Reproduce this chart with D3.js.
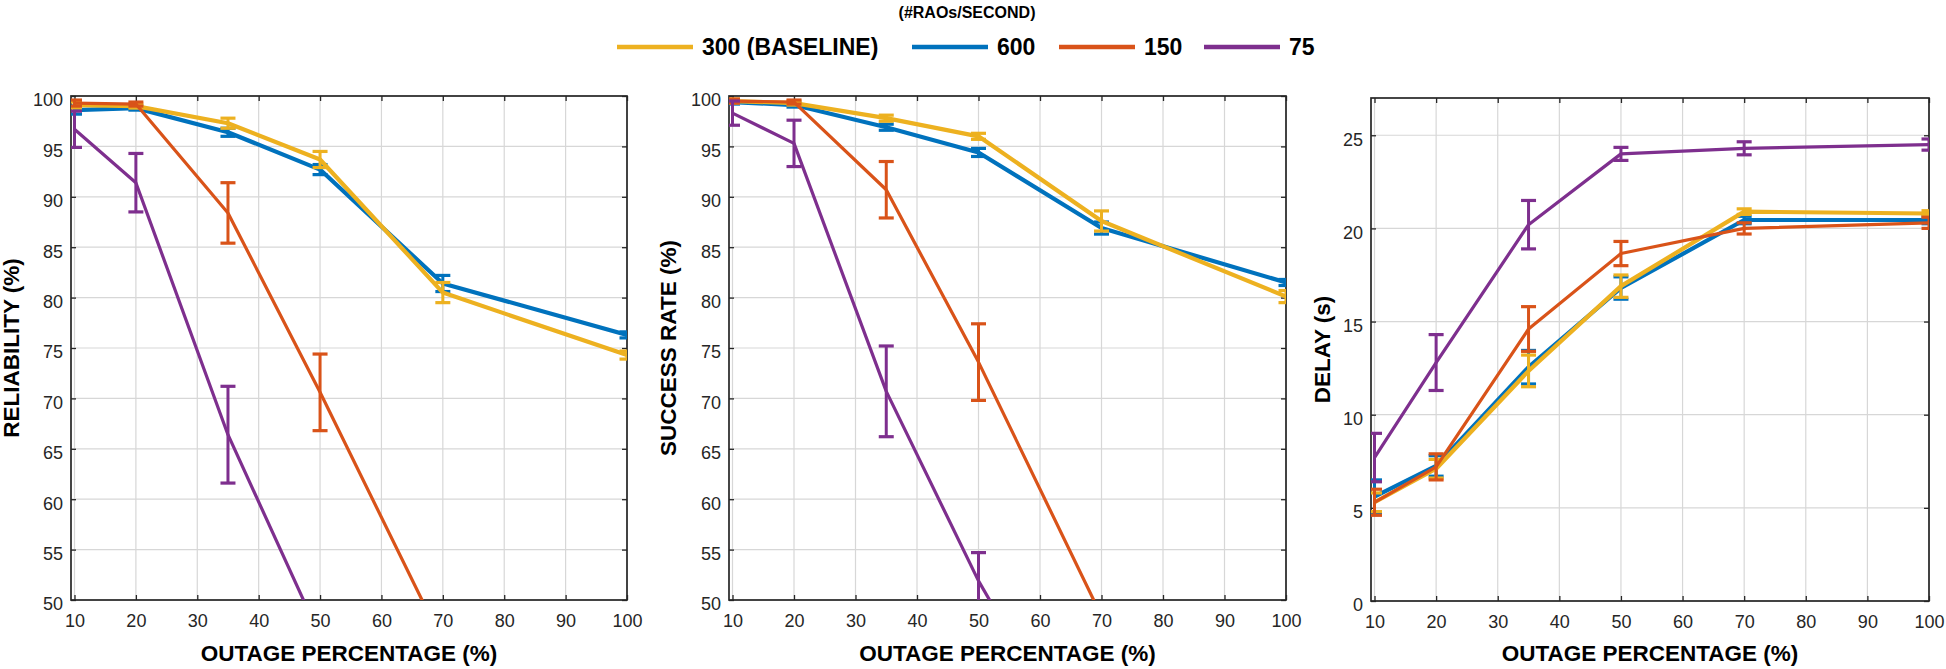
<!DOCTYPE html>
<html><head><meta charset="utf-8">
<script src="https://cdn.jsdelivr.net/npm/d3@7"></script>
<style>body{margin:0;background:#fff;} svg{display:block;font-family:"Liberation Sans",Arial,sans-serif;}</style>
</head><body><svg id="c" width="1946" height="669"></svg>
<script>
// ---------- data ----------
const outage = [10, 20, 35, 50, 70, 100];
const seriesNames = ["300 (BASELINE)", "600", "150", "75"];
const legendTitle = "(#RAOs/SECOND)";
const xTicks = [10, 20, 30, 40, 50, 60, 70, 80, 90, 100];
const pctTicks = [50, 55, 60, 65, 70, 75, 80, 85, 90, 95, 100];
const delayTicks = [0, 5, 10, 15, 20, 25];
const xTitle = "OUTAGE PERCENTAGE (%)";
const yTitles = ["RELIABILITY (%)", "SUCCESS RATE (%)", "DELAY (s)"];

// Reliability (%)
const rel300 = [99.1, 99.0, 97.3, 93.7, 80.5, 74.3];
const rel300Err = [0.3, 0.2, 0.5, 0.8, 1.0, 0.4];
const rel600 = [98.6, 98.8, 96.4, 92.7, 81.4, 76.3];
const rel600Err = [0.4, 0.2, 0.4, 0.5, 0.8, 0.3];
const rel150 = [99.3, 99.2, 88.4, 70.6, 45.8, 32.0];
const rel150Err = [0.3, 0.2, 3.0, 3.8, 1.0, 1.0];
const rel75 = [96.7, 91.4, 66.4, 46.4, 30.0, 20.0];
const rel75Err = [1.8, 2.9, 4.8, 3.0, 1.0, 1.0];

// Success rate (%)
const suc300 = [99.5, 99.3, 97.8, 96.0, 87.6, 80.1];
const suc300Err = [0.2, 0.2, 0.3, 0.3, 1.0, 0.6];
const suc600 = [99.4, 99.1, 96.9, 94.4, 86.9, 81.5];
const suc600Err = [0.2, 0.2, 0.3, 0.4, 0.6, 0.3];
const suc150 = [99.5, 99.4, 90.7, 73.6, 48.4, 35.0];
const suc150Err = [0.2, 0.2, 2.8, 3.8, 1.2, 1.0];
const suc75 = [98.3, 95.3, 70.7, 51.9, 30.8, 20.0];
const suc75Err = [1.2, 2.3, 4.5, 2.8, 1.0, 1.0];

// Delay (s)
const del300 = [5.3, 7.1, 12.35, 16.9, 20.9, 20.8];
const del300Err = [0.5, 0.5, 0.85, 0.6, 0.15, 0.15];
const del600 = [5.6, 7.25, 12.55, 16.8, 20.45, 20.45];
const del600Err = [0.9, 0.55, 0.9, 0.6, 0.2, 0.2];
const del150 = [5.3, 7.2, 14.6, 18.65, 20.0, 20.3];
const del150Err = [0.7, 0.7, 1.2, 0.65, 0.3, 0.3];
const del75 = [7.7, 12.8, 20.2, 24.0, 24.3, 24.5];
const del75Err = [1.3, 1.5, 1.3, 0.35, 0.35, 0.3];

// ---------- styling / layout ----------
const colors = {"300 (BASELINE)": "#EDB120", "600": "#0072BD", "150": "#D95319", "75": "#7E2F8E"};
const widths = {"300 (BASELINE)": 4.2, "600": 4.2, "150": 3.2, "75": 3.2};
const drawOrder = ["600", "300 (BASELINE)", "150", "75"];

const panels = [
  {box: {l: 71, r: 627, t: 96, b: 600}, yDomain: [50, 100], yTicks: pctTicks, yTitle: yTitles[0], yTitleX: 11,
   data: {"300 (BASELINE)": [rel300, rel300Err], "600": [rel600, rel600Err], "150": [rel150, rel150Err], "75": [rel75, rel75Err]}},
  {box: {l: 729, r: 1286, t: 96, b: 600}, yDomain: [50, 100], yTicks: pctTicks, yTitle: yTitles[1], yTitleX: 668,
   data: {"300 (BASELINE)": [suc300, suc300Err], "600": [suc600, suc600Err], "150": [suc150, suc150Err], "75": [suc75, suc75Err]}},
  {box: {l: 1371, r: 1929, t: 98, b: 601}, yDomain: [0, 27], yTicks: delayTicks, yTitle: yTitles[2], yTitleX: 1322,
   data: {"300 (BASELINE)": [del300, del300Err], "600": [del600, del600Err], "150": [del150, del150Err], "75": [del75, del75Err]}}
];

const svg = d3.select("#c");
const axisColor = "#262626";
const gridColor = "#d7d7d7";

panels.forEach((p, i) => {
  const {l, r, t, b} = p.box;
  const x = d3.scaleLinear().domain([9.43, 100]).range([l, r]);
  const y = d3.scaleLinear().domain(p.yDomain).range([b, t]);
  const g = svg.append("g");

  const clipId = "clip" + i;
  svg.append("clipPath").attr("id", clipId).append("rect")
    .attr("x", l).attr("y", t).attr("width", r - l).attr("height", b - t);

  // grid
  g.append("g").selectAll("line").data(xTicks).join("line")
    .attr("x1", d => x(d)).attr("x2", d => x(d)).attr("y1", t).attr("y2", b)
    .attr("stroke", gridColor).attr("stroke-width", 1.2);
  g.append("g").selectAll("line").data(p.yTicks).join("line")
    .attr("x1", l).attr("x2", r).attr("y1", d => y(d)).attr("y2", d => y(d))
    .attr("stroke", gridColor).attr("stroke-width", 1.2);

  // axes with inward ticks on all sides (d3 axes)
  const tickLen = 5;
  const bottom = g.append("g").attr("transform", `translate(0,${b})`)
    .call(d3.axisBottom(x).tickValues(xTicks).tickSize(-tickLen).tickPadding(14));
  const top = g.append("g").attr("transform", `translate(0,${t})`)
    .call(d3.axisTop(x).tickValues(xTicks).tickSize(-tickLen).tickFormat(""));
  const left = g.append("g").attr("transform", `translate(${l},0)`)
    .call(d3.axisLeft(y).tickValues(p.yTicks).tickSize(-tickLen).tickPadding(8));
  const right = g.append("g").attr("transform", `translate(${r},0)`)
    .call(d3.axisRight(y).tickValues(p.yTicks).tickSize(-tickLen).tickFormat(""));
  [bottom, top, left, right].forEach(a => {
    a.select(".domain").remove();
    a.selectAll(".tick line").attr("stroke", axisColor).attr("stroke-width", 1.3);
    a.selectAll("text").attr("fill", axisColor).style("font-size", "18px")
      .style("font-family", '"Liberation Sans", Arial, sans-serif');
  });
  bottom.selectAll("text").attr("dy", "0.71em").attr("y", 14);
  left.selectAll("text").attr("dy", "0.72em").attr("y", -3);

  // box
  g.append("rect").attr("x", l).attr("y", t).attr("width", r - l).attr("height", b - t)
    .attr("fill", "none").attr("stroke", axisColor).attr("stroke-width", 1.7);

  // series
  const plot = g.append("g").attr("clip-path", `url(#${clipId})`);
  drawOrder.forEach(name => {
    const [vals, errs] = p.data[name];
    const pts = outage.map((o, k) => ({x: o, y: vals[k], e: errs[k]}));
    const c = colors[name];
    const sg = plot.append("g");
    sg.append("path").datum(pts)
      .attr("d", d3.line().x(d => x(d.x)).y(d => y(d.y)))
      .attr("fill", "none").attr("stroke", c).attr("stroke-width", widths[name])
      .attr("stroke-linejoin", "round");
    const eb = sg.selectAll("g.eb").data(pts).join("g").attr("class", "eb");
    const cw = 7.5;
    eb.append("line").attr("x1", d => x(d.x)).attr("x2", d => x(d.x))
      .attr("y1", d => y(d.y - d.e)).attr("y2", d => y(d.y + d.e))
      .attr("stroke", c).attr("stroke-width", 3);
    eb.append("line").attr("x1", d => x(d.x) - cw).attr("x2", d => x(d.x) + cw)
      .attr("y1", d => y(d.y - d.e)).attr("y2", d => y(d.y - d.e))
      .attr("stroke", c).attr("stroke-width", 3.2);
    eb.append("line").attr("x1", d => x(d.x) - cw).attr("x2", d => x(d.x) + cw)
      .attr("y1", d => y(d.y + d.e)).attr("y2", d => y(d.y + d.e))
      .attr("stroke", c).attr("stroke-width", 3.2);
  });

  // titles
  g.append("text").attr("x", (l + r) / 2).attr("y", 661).attr("text-anchor", "middle")
    .style("font-size", "22.5px").style("font-weight", "bold").attr("fill", "#000").text(xTitle);
  g.append("text").attr("transform", `translate(${p.yTitleX},${(t + b) / 2}) rotate(-90)`)
    .attr("text-anchor", "middle").attr("dy", "0.36em")
    .style("font-size", "22.5px").style("font-weight", "bold").attr("fill", "#000").text(p.yTitle);
});

// ---------- legend ----------
const lg = svg.append("g");
lg.append("text").attr("x", 967).attr("y", 18).attr("text-anchor", "middle")
  .style("font-size", "16px").style("font-weight", "bold").attr("fill", "#000").text(legendTitle);
const legendX = [617, 912, 1059, 1204];
seriesNames.forEach((name, k) => {
  const x0 = legendX[k];
  lg.append("line").attr("x1", x0).attr("x2", x0 + 76).attr("y1", 47).attr("y2", 47)
    .attr("stroke", colors[name]).attr("stroke-width", 4.5);
  lg.append("text").attr("x", x0 + 85).attr("y", 55)
    .style("font-size", "23px").style("font-weight", "bold").attr("fill", "#000").text(name);
});
</script></body></html>
